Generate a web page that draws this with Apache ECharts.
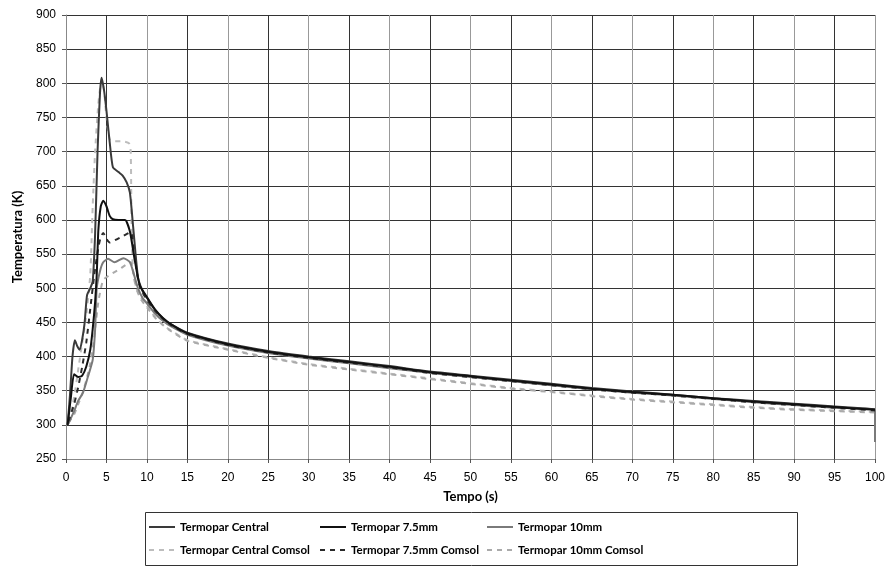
<!DOCTYPE html>
<html>
<head>
<meta charset="utf-8">
<script src="https://cdn.jsdelivr.net/npm/echarts@6/dist/echarts.min.js"></script>
<style>
  html, body { margin: 0; padding: 0; background: #fff; }
  #chart { width: 889px; height: 568px; }
</style>
</head>
<body>
<div id="chart"></div>
<script>
// tempo (s) e temperatura (K)
var tailT = [15, 20, 25, 30, 35, 40, 45, 50, 55, 60, 65, 70, 75, 80, 85, 90, 95, 100];

var centralT = [0.2, 0.5, 0.8, 1.1, 1.4, 1.7, 2.0, 2.3, 2.6, 3.0, 3.3, 3.6, 3.9, 4.2, 4.4, 4.7, 5.0, 5.4, 5.8, 6.5, 7.0, 7.5, 7.9, 8.3, 8.9, 9.5, 10, 11, 12, 13].concat(tailT);
var centralV = [300, 345, 400, 424, 415, 410, 425, 449, 490, 500, 510, 580, 700, 785, 808, 790, 760, 714, 677, 670, 665, 655, 640, 590, 516, 495, 486, 468, 456, 447,
  435, 419, 408, 400, 393, 386, 378, 372, 366, 360, 354, 349, 344, 339, 335, 331, 327, 323];

var mm75T = [0.2, 0.6, 1.0, 1.5, 2.0, 2.5, 3.0, 3.3, 3.6, 3.8, 4.0, 4.3, 4.6, 5.0, 5.4, 5.8, 6.5, 7.3, 7.9, 8.5, 9.1, 10, 11, 12, 13].concat(tailT);
var mm75V = [300, 340, 374, 370, 372, 385, 410, 440, 480, 520, 585, 620, 628, 620, 606, 601, 600, 600, 583, 541, 505, 487, 469, 456, 447,
  434, 418, 407, 399, 392, 385, 377, 371, 365, 359, 353, 348, 344, 339, 334, 330, 326, 322];

var mm10T = [0.3, 1.0, 1.5, 2.1, 2.7, 3.3, 3.6, 3.8, 4.2, 4.6, 5.2, 6.0, 7.1, 7.9, 8.4, 8.9, 9.5, 10, 11, 12, 13].concat(tailT, [100]);
var mm10V = [302, 320, 335, 347, 370, 395, 440, 500, 525, 538, 543, 538, 544, 538, 520, 500, 485, 478, 463, 452, 444,
  432, 416, 405, 397, 390, 383, 376, 370, 364, 358, 352, 347, 343, 338, 333, 329, 325, 321, 275];

var centralComsolT = [0.3, 1.0, 1.5, 2.0, 2.5, 3.0, 3.3, 3.6, 4.0, 4.4, 4.7, 5.0, 5.4, 6.0, 7.0, 7.8, 8.0, 8.1, 8.3, 8.8, 9.5, 10, 11, 12, 13].concat(tailT);
var centralComsolV = [305, 340, 380, 420, 460, 520, 620, 700, 770, 805, 790, 750, 718, 715, 715, 712, 700, 600, 520, 497, 482, 474, 458, 446, 438,
  424, 411, 399, 389, 382, 375, 368, 361, 354, 349, 343, 338, 334, 330, 326, 323, 321, 319];

var mm75ComsolT = [0.3, 1.0, 1.5, 2.0, 2.5, 3.0, 3.5, 4.0, 4.3, 4.6, 5.0, 5.4, 6.0, 7.0, 8.0, 8.4, 8.8, 9.2, 10, 11, 12, 13].concat(tailT);
var mm75ComsolV = [305, 330, 355, 385, 420, 470, 520, 560, 575, 581, 572, 567, 570, 576, 582, 560, 520, 500, 483, 467, 455, 446,
  433, 417, 406, 398, 391, 384, 376, 370, 364, 358, 352, 347, 343, 338, 333, 329, 325, 321];

var mm10ComsolT = [0.3, 1.0, 1.5, 2.0, 2.5, 3.0, 3.5, 4.0, 4.6, 5.5, 6.5, 8.0, 8.3, 8.7, 9.2, 10, 11, 12, 13].concat(tailT);
var mm10ComsolV = [303, 315, 330, 345, 365, 390, 430, 480, 512, 520, 527, 538, 525, 500, 485, 472, 457, 446, 437,
  423, 410, 398, 388, 381, 374, 367, 360, 353, 348, 342, 337, 333, 329, 325, 322, 320, 318];

var nomes = ['Termopar Central', 'Termopar 7.5mm', 'Termopar 10mm',
  'Termopar Central Comsol', 'Termopar 7.5mm Comsol', 'Termopar 10mm Comsol'];

function pares(t, v) {
  return t.map(function (x, i) { return [x, v[i]]; });
}

function serie(nome, t, v, cor, tipo) {
  return {
    name: nome,
    type: 'line',
    data: pares(t, v),
    symbol: 'none',
    smooth: 0.2,
    lineStyle: { color: cor, width: 2, type: tipo },
    itemStyle: { color: cor },
    z: 3
  };
}

var fonte = 'Liberation Sans';
var fonteTitulo = 'Lato, "Liberation Sans", sans-serif';
var legendaTexto = { fontFamily: fonteTitulo, fontSize: 11.5, fontWeight: 'bold', color: '#000' };

function legenda(esq, itens) {
  return {
    orient: 'vertical',
    left: esq,
    top: 521,
    itemWidth: 26,
    itemHeight: 14,
    itemGap: 11,
    padding: 0,
    data: itens,
    itemStyle: { opacity: 0 },
    textStyle: legendaTexto
  };
}

var myChart = echarts.init(document.getElementById('chart'));

var option = {
  animation: false,
  backgroundColor: '#fff',
  grid: { left: 66, right: 14, top: 15, bottom: 109, containLabel: false },
  xAxis: {
    type: 'value',
    min: 0,
    max: 100,
    interval: 5,
    name: 'Tempo (s)',
    nameLocation: 'middle',
    nameGap: 31,
    nameTextStyle: { fontFamily: fonteTitulo, fontSize: 13, fontWeight: 'bold', color: '#000' },
    axisLine: { lineStyle: { color: '#888', width: 1 } },
    axisTick: { show: true, length: 4, lineStyle: { color: '#555' } },
    axisLabel: { fontFamily: fonte, fontSize: 12, color: '#000', margin: 13 },
    splitLine: { show: true, lineStyle: { color: ['#999', '#333'], width: 1 } }
  },
  yAxis: {
    type: 'value',
    min: 250,
    max: 900,
    interval: 50,
    name: 'Temperatura (K)',
    nameLocation: 'middle',
    nameGap: 42,
    nameTextStyle: { fontFamily: fonteTitulo, fontSize: 13, fontWeight: 'bold', color: '#000' },
    axisLine: { show: true, lineStyle: { color: '#888', width: 1 } },
    axisTick: { show: true, length: 4, lineStyle: { color: '#555' } },
    axisLabel: { fontFamily: fonte, fontSize: 12, color: '#000', margin: 10 },
    splitLine: { show: true, lineStyle: { color: '#333', width: 1 } }
  },
  legend: [
    legenda(148, [nomes[0], nomes[3]]),
    legenda(319, [nomes[1], nomes[4]]),
    legenda(486, [nomes[2], nomes[5]])
  ],
  graphic: [{
    type: 'rect',
    shape: { x: 145.5, y: 512.5, width: 652, height: 53 },
    style: { fill: 'none', stroke: '#333', lineWidth: 1 }
  }],
  series: [
    serie(nomes[3], centralComsolT, centralComsolV, '#bdbdbd', [5, 5]),
    serie(nomes[5], mm10ComsolT, mm10ComsolV, '#aaaaaa', [5, 5]),
    serie(nomes[2], mm10T, mm10V, '#7a7a7a', 'solid'),
    serie(nomes[4], mm75ComsolT, mm75ComsolV, '#2a2a2a', [5, 5]),
    serie(nomes[0], centralT, centralV, '#3a3a3a', 'solid'),
    serie(nomes[1], mm75T, mm75V, '#111111', 'solid')
  ]
};

myChart.setOption(option);
</script>
</body>
</html>
